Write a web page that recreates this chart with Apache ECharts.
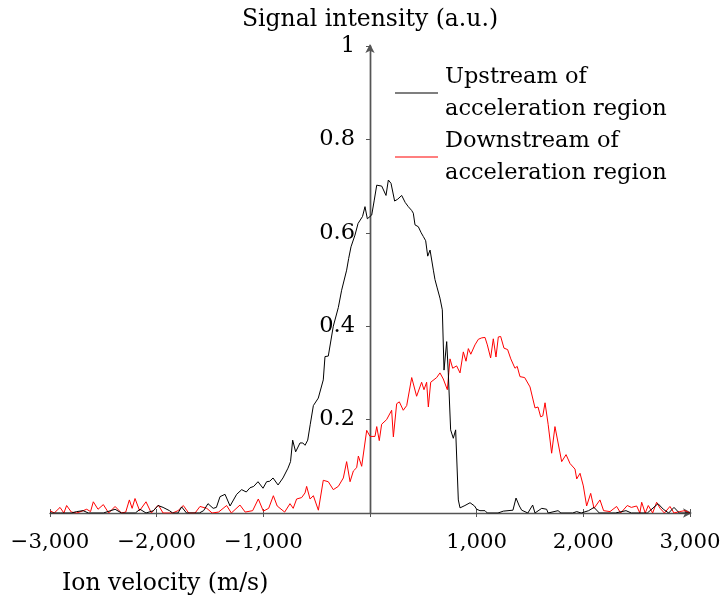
<!DOCTYPE html>
<html>
<head>
<meta charset="utf-8">
<script src="https://cdn.jsdelivr.net/npm/echarts@6/dist/echarts.min.js"></script>
<style>html,body{margin:0;padding:0;background:#fff}#chart{width:720px;height:597px}</style>
</head>
<body>
<div id="chart"></div>
<script>
// Upstream of acceleration region (black)
var upstreamVelocity = [-3000,-2900,-2800,-2750,-2690,-2640,-2500,-2390,-2330,-2200,-2156,-2100,-2030,-1987,-1940,-1880,-1850,-1800,-1766,-1720,-1600,-1560,-1519,-1470,-1440,-1406,-1359,-1312,-1250,-1203,-1160,-1125,-1090,-1050,-1003,-969,-940,-909,-862,-816,-769,-745,-725,-697,-656,-630,-609,-584,-560,-531,-485,-438,-422,-391,-344,-297,-266,-250,-219,-200,-178,-141,-112,-94,-70,-47,-25,16,40,63,110,150,172,197,231,260,297,330,359,390,406,422,453,480,500,522,541,563,594,609,630,656,678,694,719,734,756,781,803,828,844,890,938,980,1000,1031,1078,1100,1200,1250,1340,1369,1400,1422,1480,1525,1547,1610,1656,1670,1763,1790,1900,1938,1980,2050,2100,2150,2300,2400,2450,2600,2700,2750,2800,2850,2900,3000];
var upstreamIntensity = [0,0,0,0.003,0.005,0,0,0.008,0,0,0.008,0,0.005,0.016,0.012,0.005,0,0,0.013,0,0,0.005,0.02,0.01,0.012,0.035,0.04,0.015,0.04,0.05,0.045,0.054,0.057,0.067,0.053,0.067,0.068,0.075,0.06,0.075,0.096,0.11,0.156,0.131,0.15,0.15,0.145,0.156,0.19,0.23,0.246,0.285,0.335,0.336,0.40,0.44,0.477,0.477,0.52,0.545,0.57,0.595,0.62,0.617,0.635,0.656,0.63,0.638,0.67,0.702,0.70,0.68,0.713,0.706,0.668,0.672,0.68,0.665,0.656,0.648,0.642,0.617,0.613,0.6,0.592,0.583,0.55,0.563,0.52,0.50,0.482,0.46,0.435,0.306,0.367,0.30,0.178,0.16,0.178,0.028,0.011,0.016,0.022,0.015,0.008,0.005,0.005,0,0,0.004,0.006,0.032,0.015,0.006,0,0.017,0,0.01,0.008,0,0.005,0,0,0.003,0,0.005,0.012,0,0,0.005,0,0,0.02,0.008,0,0.012,0,0];

// Downstream of acceleration region (red)
var downstreamVelocity = [-3000,-2960,-2906,-2870,-2844,-2800,-2750,-2700,-2656,-2620,-2594,-2550,-2500,-2450,-2390,-2330,-2290,-2256,-2230,-2203,-2160,-2100,-2050,-1984,-1940,-1850,-1800,-1750,-1700,-1640,-1594,-1530,-1480,-1420,-1344,-1300,-1219,-1170,-1100,-1047,-1000,-950,-906,-870,-800,-750,-720,-688,-641,-609,-594,-562,-531,-484,-438,-391,-344,-297,-250,-219,-187,-156,-125,-109,-78,-31,0,47,63,87,109,156,203,219,250,275,312,344,391,437,484,506,531,547,569,625,656,687,725,750,775,812,844,875,900,922,945,984,1016,1047,1078,1100,1131,1156,1181,1203,1225,1256,1290,1320,1359,1380,1406,1450,1500,1547,1575,1600,1620,1641,1670,1703,1734,1750,1797,1838,1875,1922,1938,1969,2000,2031,2069,2100,2156,2190,2250,2312,2350,2412,2450,2500,2530,2547,2580,2609,2650,2687,2720,2760,2812,2850,2900,2953,3000];
var downstreamIntensity = [0.005,0,0.012,0,0.016,0.002,0,0.004,0.008,0.003,0.024,0.008,0.018,0,0.014,0,0.002,0.028,0.01,0.031,0.005,0.024,0,0.017,0,0,0.005,0.016,0,0,0.014,0.01,0,0.002,0.016,0,0.017,0.002,0.005,0.03,0.004,0.01,0.037,0.015,0.002,0.02,0.01,0.03,0.033,0.043,0.057,0.03,0.037,0.006,0.07,0.067,0.05,0.057,0.075,0.11,0.067,0.09,0.097,0.122,0.1,0.177,0.164,0.164,0.185,0.155,0.19,0.2,0.22,0.163,0.234,0.238,0.22,0.23,0.29,0.25,0.28,0.264,0.28,0.227,0.28,0.29,0.3,0.287,0.264,0.33,0.31,0.315,0.30,0.345,0.325,0.352,0.34,0.36,0.372,0.375,0.376,0.36,0.332,0.373,0.334,0.377,0.378,0.353,0.35,0.33,0.31,0.314,0.292,0.29,0.27,0.225,0.227,0.206,0.208,0.236,0.19,0.128,0.185,0.187,0.11,0.125,0.106,0.094,0.073,0.085,0.058,0.015,0.042,0.01,0.028,0.005,0.003,0.014,0,0.016,0.012,0.015,0,0.023,0,0.016,0,0.023,0.01,0,0.014,0,0.003,0.005,0];

var xTicks = [-3000,-2000,-1000,1000,2000,3000];
var yTicks = [0.2,0.4,0.6,0.8,1];
var seriesNames = ['Upstream of\nacceleration region','Downstream of\nacceleration region'];
var yTitle = 'Signal intensity (a.u.)';
var xTitle = 'Ion velocity (m/s)';

function zip(a,b){var r=[];for(var i=0;i<a.length;i++)r.push([a[i],b[i]]);return r;}
function fmtX(v){ if(xTicks.indexOf(v)<0) return ''; var s=Math.abs(v).toString().replace(/\B(?=(\d{3})+(?!\d))/g, ','); return (v<0?'\u2212':'')+s; }
function fmtY(v){ var r=Math.round(v*10)/10; if(!yTicks.some(function(t){return Math.abs(t-r)<1e-9;})) return ''; return String(r); }

var FONT = 'DejaVu Serif';
var axisCol = '#555';
var chart = echarts.init(document.getElementById('chart'), null, {renderer:'canvas'});
var xBase = {type:'value', min:-3000, max:3000, interval:1000, position:'bottom', splitLine:{show:false}};
var yBase = {type:'value', min:0, max:1, interval:0.2, splitLine:{show:false}};
chart.setOption({
  animation:false,
  backgroundColor:'#fff',
  grid:{left:50, right:30, top:46, bottom:84, containLabel:false, outerBoundsMode:'none'},
  xAxis:[
    Object.assign({}, xBase, {
      axisLine:{show:true, onZero:true, symbol:['none','arrow'], symbolSize:[7,9], symbolOffset:[0,2], lineStyle:{color:axisCol, width:1.4}},
      axisTick:{show:true, inside:false, length:4, lineStyle:{color:axisCol, width:1}},
      axisLabel:{show:true, margin:19, formatter:fmtX, fontFamily:FONT, fontSize:21.3, color:'#000'}
    }),
    Object.assign({}, xBase, {
      axisLine:{show:false},
      axisTick:{show:true, inside:true, length:4, lineStyle:{color:axisCol, width:1}},
      axisLabel:{show:false}
    })
  ],
  yAxis:[
    Object.assign({}, yBase, {
      name:yTitle, nameLocation:'end', nameGap:14,
      nameTextStyle:{fontFamily:FONT, fontSize:23.5, color:'#000', align:'center', verticalAlign:'bottom'},
      axisLine:{show:true, onZero:true, symbol:['none','arrow'], symbolSize:[7,9], symbolOffset:[0,2], lineStyle:{color:axisCol, width:1.4}},
      axisTick:{show:true, inside:false, length:4, lineStyle:{color:axisCol, width:1}},
      axisLabel:{show:true, margin:-305, formatter:fmtY, fontFamily:FONT, fontSize:22.5, color:'#000'}
    }),
    Object.assign({}, yBase, {
      axisLine:{show:true, onZero:true, lineStyle:{color:axisCol, width:1.4}},
      axisTick:{show:true, inside:true, length:4, lineStyle:{color:axisCol, width:1}},
      axisLabel:{show:false}
    })
  ],
  legend:{
    orient:'vertical', left:395, top:61, padding:0, itemGap:0, itemWidth:43, itemHeight:1.2,
    icon:'rect',
    data:seriesNames,
    textStyle:{fontFamily:FONT, fontSize:22.5, color:'#000', lineHeight:32, padding:[0,0,0,2]}
  },
  graphic:[
    {type:'text', left:62, top:572, style:{text:xTitle, font:'23.5px "DejaVu Serif"', fill:'#000'}}
  ],
  series:[
    {name:seriesNames[1], type:'line', xAxisIndex:0, yAxisIndex:0, data:zip(downstreamVelocity, downstreamIntensity), symbol:'none', showSymbol:false, z:3, lineStyle:{color:'#ff0000', width:1}, itemStyle:{color:'#ff0000'}},
    {name:seriesNames[0], type:'line', xAxisIndex:0, yAxisIndex:0, data:zip(upstreamVelocity, upstreamIntensity), symbol:'none', showSymbol:false, z:4, lineStyle:{color:'#000000', width:1}, itemStyle:{color:'#000000'}}
  ]
});
</script>
</body>
</html>
